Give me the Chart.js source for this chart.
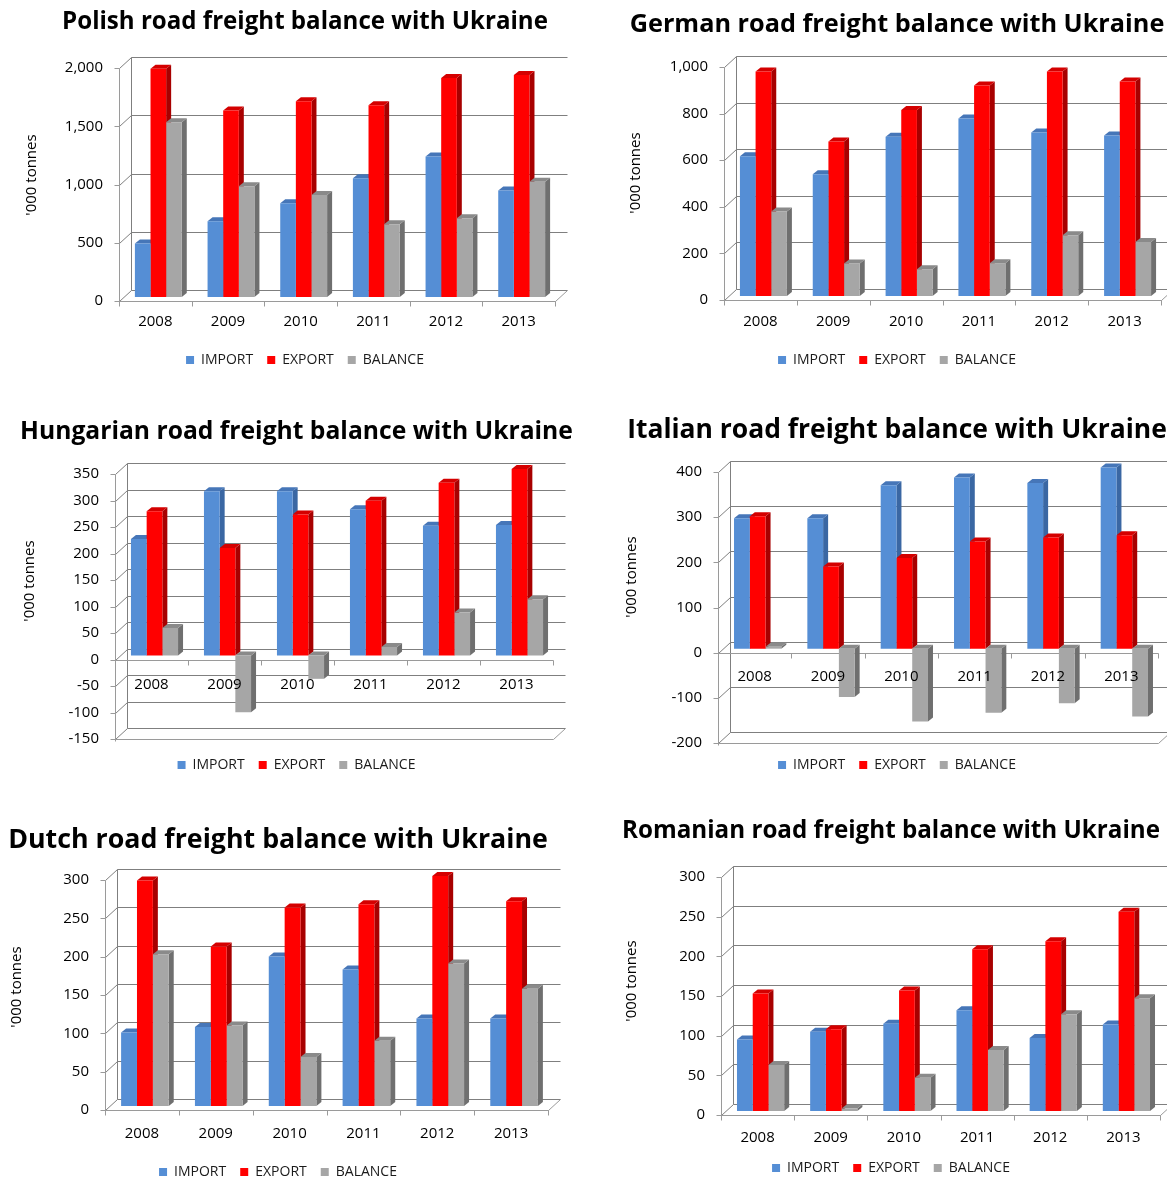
<!DOCTYPE html>
<html>
<head>
<meta charset="utf-8">
<title>Road freight balance with Ukraine</title>
<script src="https://cdn.jsdelivr.net/npm/chart.js@4/dist/chart.umd.min.js"></script>
<style>
  html, body { margin: 0; padding: 0; background: #ffffff; overflow: hidden; }
  body { width: 1167px; height: 1178px; position: relative; }
  .panel { position: absolute; }
</style>
</head>
<body>
<div class="panel" id="p-pl"><canvas id="c-pl"></canvas></div>
<div class="panel" id="p-de"><canvas id="c-de"></canvas></div>
<div class="panel" id="p-hu"><canvas id="c-hu"></canvas></div>
<div class="panel" id="p-it"><canvas id="c-it"></canvas></div>
<div class="panel" id="p-nl"><canvas id="c-nl"></canvas></div>
<div class="panel" id="p-ro"><canvas id="c-ro"></canvas></div>
<script>
// Road freight with Ukraine, '000 tonnes
const years = ['2008', '2009', '2010', '2011', '2012', '2013'];
const seriesNames = ['IMPORT', 'EXPORT', 'BALANCE'];

const polishImport  = [460, 650, 805, 1020, 1205, 915];
const polishExport  = [1960, 1600, 1680, 1645, 1880, 1905];
const polishBalance = [1500, 950, 875, 625, 675, 990];

const germanImport  = [600, 523, 683, 762, 702, 689];
const germanExport  = [963, 663, 798, 903, 963, 921];
const germanBalance = [363, 140, 115, 141, 261, 232];

const hungarianImport  = [220, 310, 310, 276, 245, 246];
const hungarianExport  = [272, 203, 266, 292, 326, 352];
const hungarianBalance = [52, -107, -44, 16, 81, 106];

const italianImport  = [289, 289, 362, 379, 367, 401];
const italianExport  = [293, 182, 201, 237, 246, 251];
const italianBalance = [4, -107, -161, -142, -121, -150];

const dutchImport  = [96, 103, 195, 178, 114, 114];
const dutchExport  = [294, 208, 259, 263, 300, 267];
const dutchBalance = [198, 105, 64, 85, 186, 153];

const romanianImport  = [90, 100, 110, 127, 92, 109];
const romanianExport  = [148, 103, 152, 204, 214, 251];
const romanianBalance = [58, 3, 42, 77, 122, 142];

const unitLabel = "'000 tonnes";

// Colours: front face, right side face, top face
const frontColors = ['#558ed5', '#ff0000', '#a6a6a6'];
const sideColors  = ['#3a67a3', '#a80000', '#6f6f6f'];
const topColors   = ['#4676b8', '#d40000', '#8a8a8a'];

const FONT = '"Open Sans", "Noto Sans", "DejaVu Sans", sans-serif';
const INK = '#000000';
const GRID = '#7f7f7f';
const TICK_SIZE = 15;
const LEGEND_SIZE = 14;
const LEGEND_PAD = 14;

// Pseudo-3D look: back wall, side walls, floor and depth faces of the columns
const depthPlugin = {
  id: 'depth',
  beforeDatasetsDraw(chart, args, o) {
    const { ctx, chartArea: ca, scales } = chart;
    const y = scales.y, x = scales.x;
    const dx = o.wallDx, dy = o.wallDy;
    const L = Math.round(ca.left) + 0.5, R = Math.round(ca.right) + 0.5;
    ctx.save();
    ctx.lineWidth = 1;
    ctx.strokeStyle = GRID;

    // back wall gridlines, each with its diagonal on the side wall
    y.ticks.forEach(t => {
      const py = Math.round(y.getPixelForValue(t.value)) + 0.5;
      ctx.beginPath();
      ctx.moveTo(L, py);
      ctx.lineTo(L + dx, py - dy);
      ctx.lineTo(R + dx, py - dy);
      ctx.stroke();
    });
    // back wall left edge
    ctx.beginPath();
    ctx.moveTo(L + dx, Math.round(ca.top) + 0.5 - dy);
    ctx.lineTo(L + dx, Math.round(ca.bottom) + 0.5 - dy);
    ctx.stroke();

    // floor: front edge and right diagonal
    const fy = Math.round(ca.bottom) + 0.5;
    ctx.strokeStyle = '#9a9a9a';
    ctx.beginPath();
    ctx.moveTo(L, fy);
    ctx.lineTo(R, fy);
    ctx.lineTo(R + dx, fy - dy);
    ctx.stroke();

    // value axis with outward tick marks
    ctx.beginPath();
    ctx.moveTo(L, Math.round(ca.top) + 0.5);
    ctx.lineTo(L, fy + 2);
    y.ticks.forEach(t => {
      const py = Math.round(y.getPixelForValue(t.value)) + 0.5;
      ctx.moveTo(L - 5, py);
      ctx.lineTo(L, py);
    });
    ctx.stroke();

    // category axis at zero with tick marks between categories
    const zy = Math.round(y.getPixelForValue(0)) + 0.5;
    ctx.beginPath();
    ctx.moveTo(L, zy);
    ctx.lineTo(R, zy);
    const n = chart.data.labels.length;
    for (let i = 0; i <= n; i++) {
      const px = Math.round(x.left + (x.width * i) / n) + 0.5;
      ctx.moveTo(px, zy);
      ctx.lineTo(px, zy + 5);
    }
    ctx.stroke();

    // side and top faces of the columns (fronts are drawn by Chart.js on top)
    const sx = o.barDx, sy = o.barDy, ex = o.faceDx, ey = o.faceDy;
    chart.data.datasets.forEach((ds, i) => {
      const meta = chart.getDatasetMeta(i);
      meta.data.forEach(bar => {
        const p = bar.getProps(['x', 'y', 'base', 'width'], true);
        const l = p.x - p.width / 2 + sx, r = p.x + p.width / 2 + sx;
        const t = Math.min(p.y, p.base) - sy, b = Math.max(p.y, p.base) - sy;
        ctx.fillStyle = sideColors[i];
        ctx.beginPath();
        ctx.moveTo(r, t); ctx.lineTo(r + ex, t - ey); ctx.lineTo(r + ex, b - ey); ctx.lineTo(r, b);
        ctx.closePath(); ctx.fill();
        ctx.fillStyle = topColors[i];
        ctx.beginPath();
        ctx.moveTo(l, t); ctx.lineTo(l + ex, t - ey); ctx.lineTo(r + ex, t - ey); ctx.lineTo(r, t);
        ctx.closePath(); ctx.fill();
      });
    });
    ctx.restore();

    // column fronts sit slightly behind the front plane
    ctx.save();
    ctx.translate(sx, -sy);
  },
  afterDatasetsDraw(chart) {
    chart.ctx.restore();
  },
  afterDraw(chart, args, o) {
    // rotated value-axis caption
    const { ctx } = chart;
    ctx.save();
    ctx.translate(o.captionX, o.captionY);
    ctx.rotate(-Math.PI / 2);
    ctx.font = `${o.captionSize}px ${FONT}`;
    ctx.fillStyle = INK;
    ctx.textAlign = 'center';
    ctx.textBaseline = 'middle';
    ctx.fillText(o.caption, 0, 0);
    ctx.restore();
  }
};

// Panel layout (pixels inside each panel canvas)
const panels = [
  { key: 'pl', title: 'Polish road freight balance with Ukraine', titleW: 486,
    values: [polishImport, polishExport, polishBalance], min: 0, max: 2000, step: 500,
    box: { left: 0, top: 0, width: 610 }, titleY: 22, plotTop: 68, plotBottom: 301, legendY: 360,
    axisW: 119, spaceR: 55, captionX: 32, captionY: 175, xPad: 12 },
  { key: 'de', title: 'German road freight balance with Ukraine', titleW: 535,
    values: [germanImport, germanExport, germanBalance], min: 0, max: 1000, step: 200,
    box: { left: 600, top: 0, width: 594 }, titleY: 25, plotTop: 67, plotBottom: 300, legendY: 360,
    axisW: 124, spaceR: 33, captionX: 36, captionY: 173, xPad: 13 },
  { key: 'hu', title: 'Hungarian road freight balance with Ukraine', titleW: 553,
    values: [hungarianImport, hungarianExport, hungarianBalance], min: -150, max: 350, step: 50,
    box: { left: 0, top: 400, width: 593 }, titleY: 32, plotTop: 74, plotBottom: 339, legendY: 365,
    axisW: 115, spaceR: 40, captionX: 30, captionY: 181, xPad: 16 },
  { key: 'it', title: 'Italian road freight balance with Ukraine', titleW: 540,
    values: [italianImport, italianExport, italianBalance], min: -200, max: 400, step: 100,
    box: { left: 600, top: 400, width: 594 }, titleY: 30, plotTop: 72, plotBottom: 343, legendY: 365,
    axisW: 118, spaceR: 36, captionX: 32, captionY: 177, xPad: 15 },
  { key: 'nl', title: 'Dutch road freight balance with Ukraine', titleW: 540,
    values: [dutchImport, dutchExport, dutchBalance], min: 0, max: 300, step: 50,
    box: { left: -10, top: 800, width: 576 }, titleY: 40, plotTop: 80, plotBottom: 310, legendY: 372,
    axisW: 115, spaceR: 18, captionX: 27, captionY: 187, xPad: 15 },
  { key: 'ro', title: 'Romanian road freight balance with Ukraine', titleW: 538,
    values: [romanianImport, romanianExport, romanianBalance], min: 0, max: 300, step: 50,
    box: { left: 600, top: 800, width: 582 }, titleY: 31, plotTop: 77, plotBottom: 315, legendY: 368,
    axisW: 121, spaceR: 22, captionX: 32, captionY: 181, xPad: 14 }
];

// bold title size that gives the wanted text width
const measureCtx = document.createElement('canvas').getContext('2d');
function titleSizeFor(text, width) {
  measureCtx.font = `bold 100px ${FONT}`;
  return 100 * width / measureCtx.measureText(text).width;
}

Chart.defaults.font.family = FONT;
Chart.defaults.color = INK;

panels.forEach(p => {
  const titleSize = titleSizeFor(p.title, p.titleW);
  const titleLine = titleSize * 1.2;
  const padTop = p.titleY - titleLine / 2;
  const padBottom = p.plotTop - padTop - titleLine;
  // legend text centre sits 10px + half a row above the canvas bottom
  const height = Math.round(p.legendY + 10 + LEGEND_SIZE / 2);
  const legendTop = height - (LEGEND_SIZE + LEGEND_PAD + 10);
  const spaceB = legendTop - p.plotBottom;

  const wrap = document.getElementById('p-' + p.key);
  wrap.style.left = p.box.left + 'px';
  wrap.style.top = p.box.top + 'px';
  const canvas = document.getElementById('c-' + p.key);
  canvas.width = p.box.width;
  canvas.height = height;
  canvas.style.width = p.box.width + 'px';
  canvas.style.height = height + 'px';

  new Chart(canvas, {
    type: 'bar',
    data: {
      labels: years,
      datasets: seriesNames.map((name, i) => ({
        label: name,
        data: p.values[i],
        backgroundColor: frontColors[i],
        borderWidth: 0,
        xAxisID: 'x',
        yAxisID: 'y',
        clip: false,
        categoryPercentage: 0.645,
        barPercentage: 1.0
      }))
    },
    options: {
      responsive: false,
      animation: false,
      devicePixelRatio: 1,
      events: [],
      layout: { padding: 0 },
      plugins: {
        title: {
          display: true,
          text: p.title,
          color: INK,
          font: { size: titleSize, weight: 'bold', family: FONT, lineHeight: 1.2 },
          padding: { top: padTop, bottom: padBottom }
        },
        legend: {
          position: 'bottom',
          labels: {
            boxWidth: 8, boxHeight: 8, padding: LEGEND_PAD,
            color: '#1a1a1a',
            font: { size: LEGEND_SIZE, family: FONT }
          }
        },
        tooltip: { enabled: false },
        depth: {
          wallDx: 12, wallDy: 11, barDx: 3, barDy: 4, faceDx: 5, faceDy: 4,
          caption: unitLabel, captionX: p.captionX, captionY: p.captionY, captionSize: 15
        }
      },
      scales: {
        x: {
          type: 'category',
          position: { y: 0 },
          grid: { display: false, drawTicks: false },
          border: { display: false },
          ticks: { padding: p.xPad, color: INK, font: { size: TICK_SIZE }, maxRotation: 0, z: 1 }
        },
        y: {
          type: 'linear',
          position: 'left',
          min: p.min, max: p.max,
          grid: { display: false, drawTicks: false },
          border: { display: false },
          ticks: { stepSize: p.step, padding: 16, color: INK, font: { size: TICK_SIZE } },
          afterFit: s => { s.width = p.axisW; }
        },
        spaceRight: {
          type: 'linear', position: 'right', axis: 'y', display: true,
          grid: { display: false, drawTicks: false }, border: { display: false },
          ticks: { display: false },
          afterFit: s => { s.width = p.spaceR; }
        },
        spaceBottom: {
          type: 'linear', position: 'bottom', axis: 'x', display: true,
          grid: { display: false, drawTicks: false }, border: { display: false },
          ticks: { display: false },
          afterFit: s => { s.height = spaceB; }
        }
      }
    },
    plugins: [depthPlugin]
  });
});
</script>
</body>
</html>
